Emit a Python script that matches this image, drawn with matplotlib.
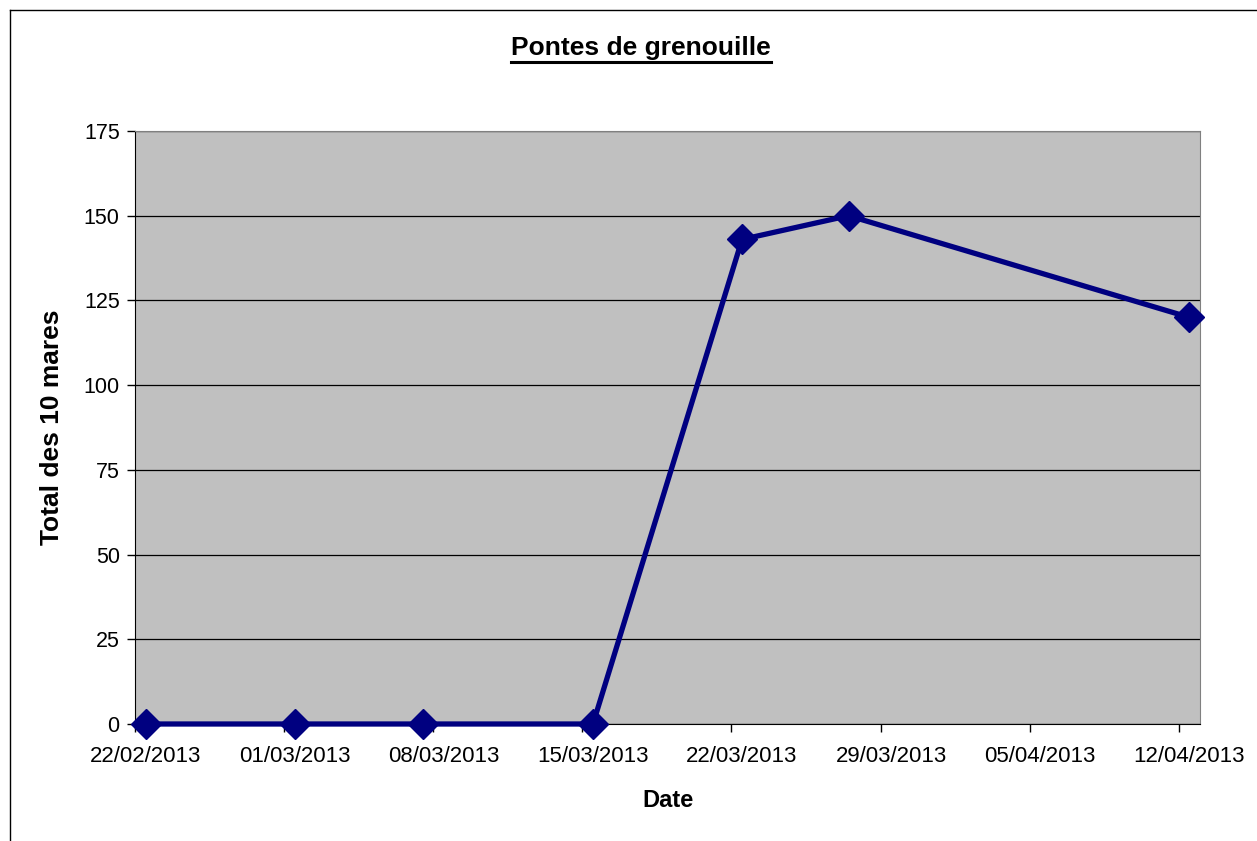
import datetime as dt
import matplotlib
matplotlib.use("Agg")
import matplotlib.pyplot as plt
import matplotlib.dates as mdates
from matplotlib.lines import Line2D

# data
dates = ["22/02/2013", "01/03/2013", "07/03/2013", "15/03/2013",
         "22/03/2013", "27/03/2013", "12/04/2013"]
totals = [0, 0, 0, 0, 143, 150, 120]
tick_dates = ["22/02/2013", "01/03/2013", "08/03/2013", "15/03/2013",
              "22/03/2013", "29/03/2013", "05/04/2013", "12/04/2013"]
y_ticks = [0, 25, 50, 75, 100, 125, 150, 175]

def parse(s):
  return dt.datetime.strptime(s, "%d/%m/%Y")

half_day = dt.timedelta(hours=12)

W, H = 1257, 841
plt.rcParams['font.family'] = ['Liberation Sans', 'DejaVu Sans']
fig = plt.figure(figsize=(W/100, H/100), dpi=100)

# outer chart border
fig.add_artist(Line2D([10/W, 10/W], [0, 1-10/H], color="black", lw=1, transform=fig.transFigure))
fig.add_artist(Line2D([10/W, 1], [1-10/H, 1-10/H], color="black", lw=1, transform=fig.transFigure))

ax = fig.add_axes([135/W, 1-724/H, (1200-135)/W, (724-131)/H])
ax.set_facecolor("#C0C0C0")

# excel date axis puts the point (and label) in the middle of the day
xs = [parse(d) + half_day for d in dates]
ax.plot(xs, totals, color="#000080", lw=3.8, marker="D", ms=15,
        markerfacecolor="#000080", markeredgecolor="#000080", zorder=3, clip_on=False)

ax.set_xlim(parse("22/02/2013"), parse("13/04/2013"))
ax.set_ylim(0, 175)
ax.set_yticks(y_ticks)
ax.set_xticks([parse(d) for d in tick_dates])
ax.set_xticklabels([])
ax.set_xticks([parse(d) + half_day for d in tick_dates], minor=True)
ax.xaxis.set_minor_formatter(mdates.DateFormatter("%d/%m/%Y"))
ax.tick_params(axis="x", which="minor", length=0, pad=16, labelsize=16)
ax.grid(axis="y", color="black", lw=0.9)
ax.set_axisbelow(True)

for s in ["top", "right"]:
  ax.spines[s].set_color("#808080")
for s in ["left", "bottom"]:
  ax.spines[s].set_color("black")
ax.tick_params(axis="both", which="major", direction="out", length=6, width=1, labelsize=15.5, colors="black")
ax.tick_params(axis="y", pad=5)

ax.set_xlabel("Date", fontsize=17, fontweight="bold", labelpad=16)
ax.set_ylabel("Total des 10 mares", fontsize=19, fontweight="bold", labelpad=14)

title = fig.text(641/W, 1-48/H, "Pontes de grenouille", fontsize=19, fontweight="bold",
                 ha="center", va="center")
fig.canvas.draw()
bb = title.get_window_extent()
fig.add_artist(Line2D([bb.x0/W, bb.x1/W], [(bb.y0-2)/H, (bb.y0-2)/H], color="black", lw=2.2,
                      transform=fig.transFigure))

fig.savefig("out.png", dpi=100)
